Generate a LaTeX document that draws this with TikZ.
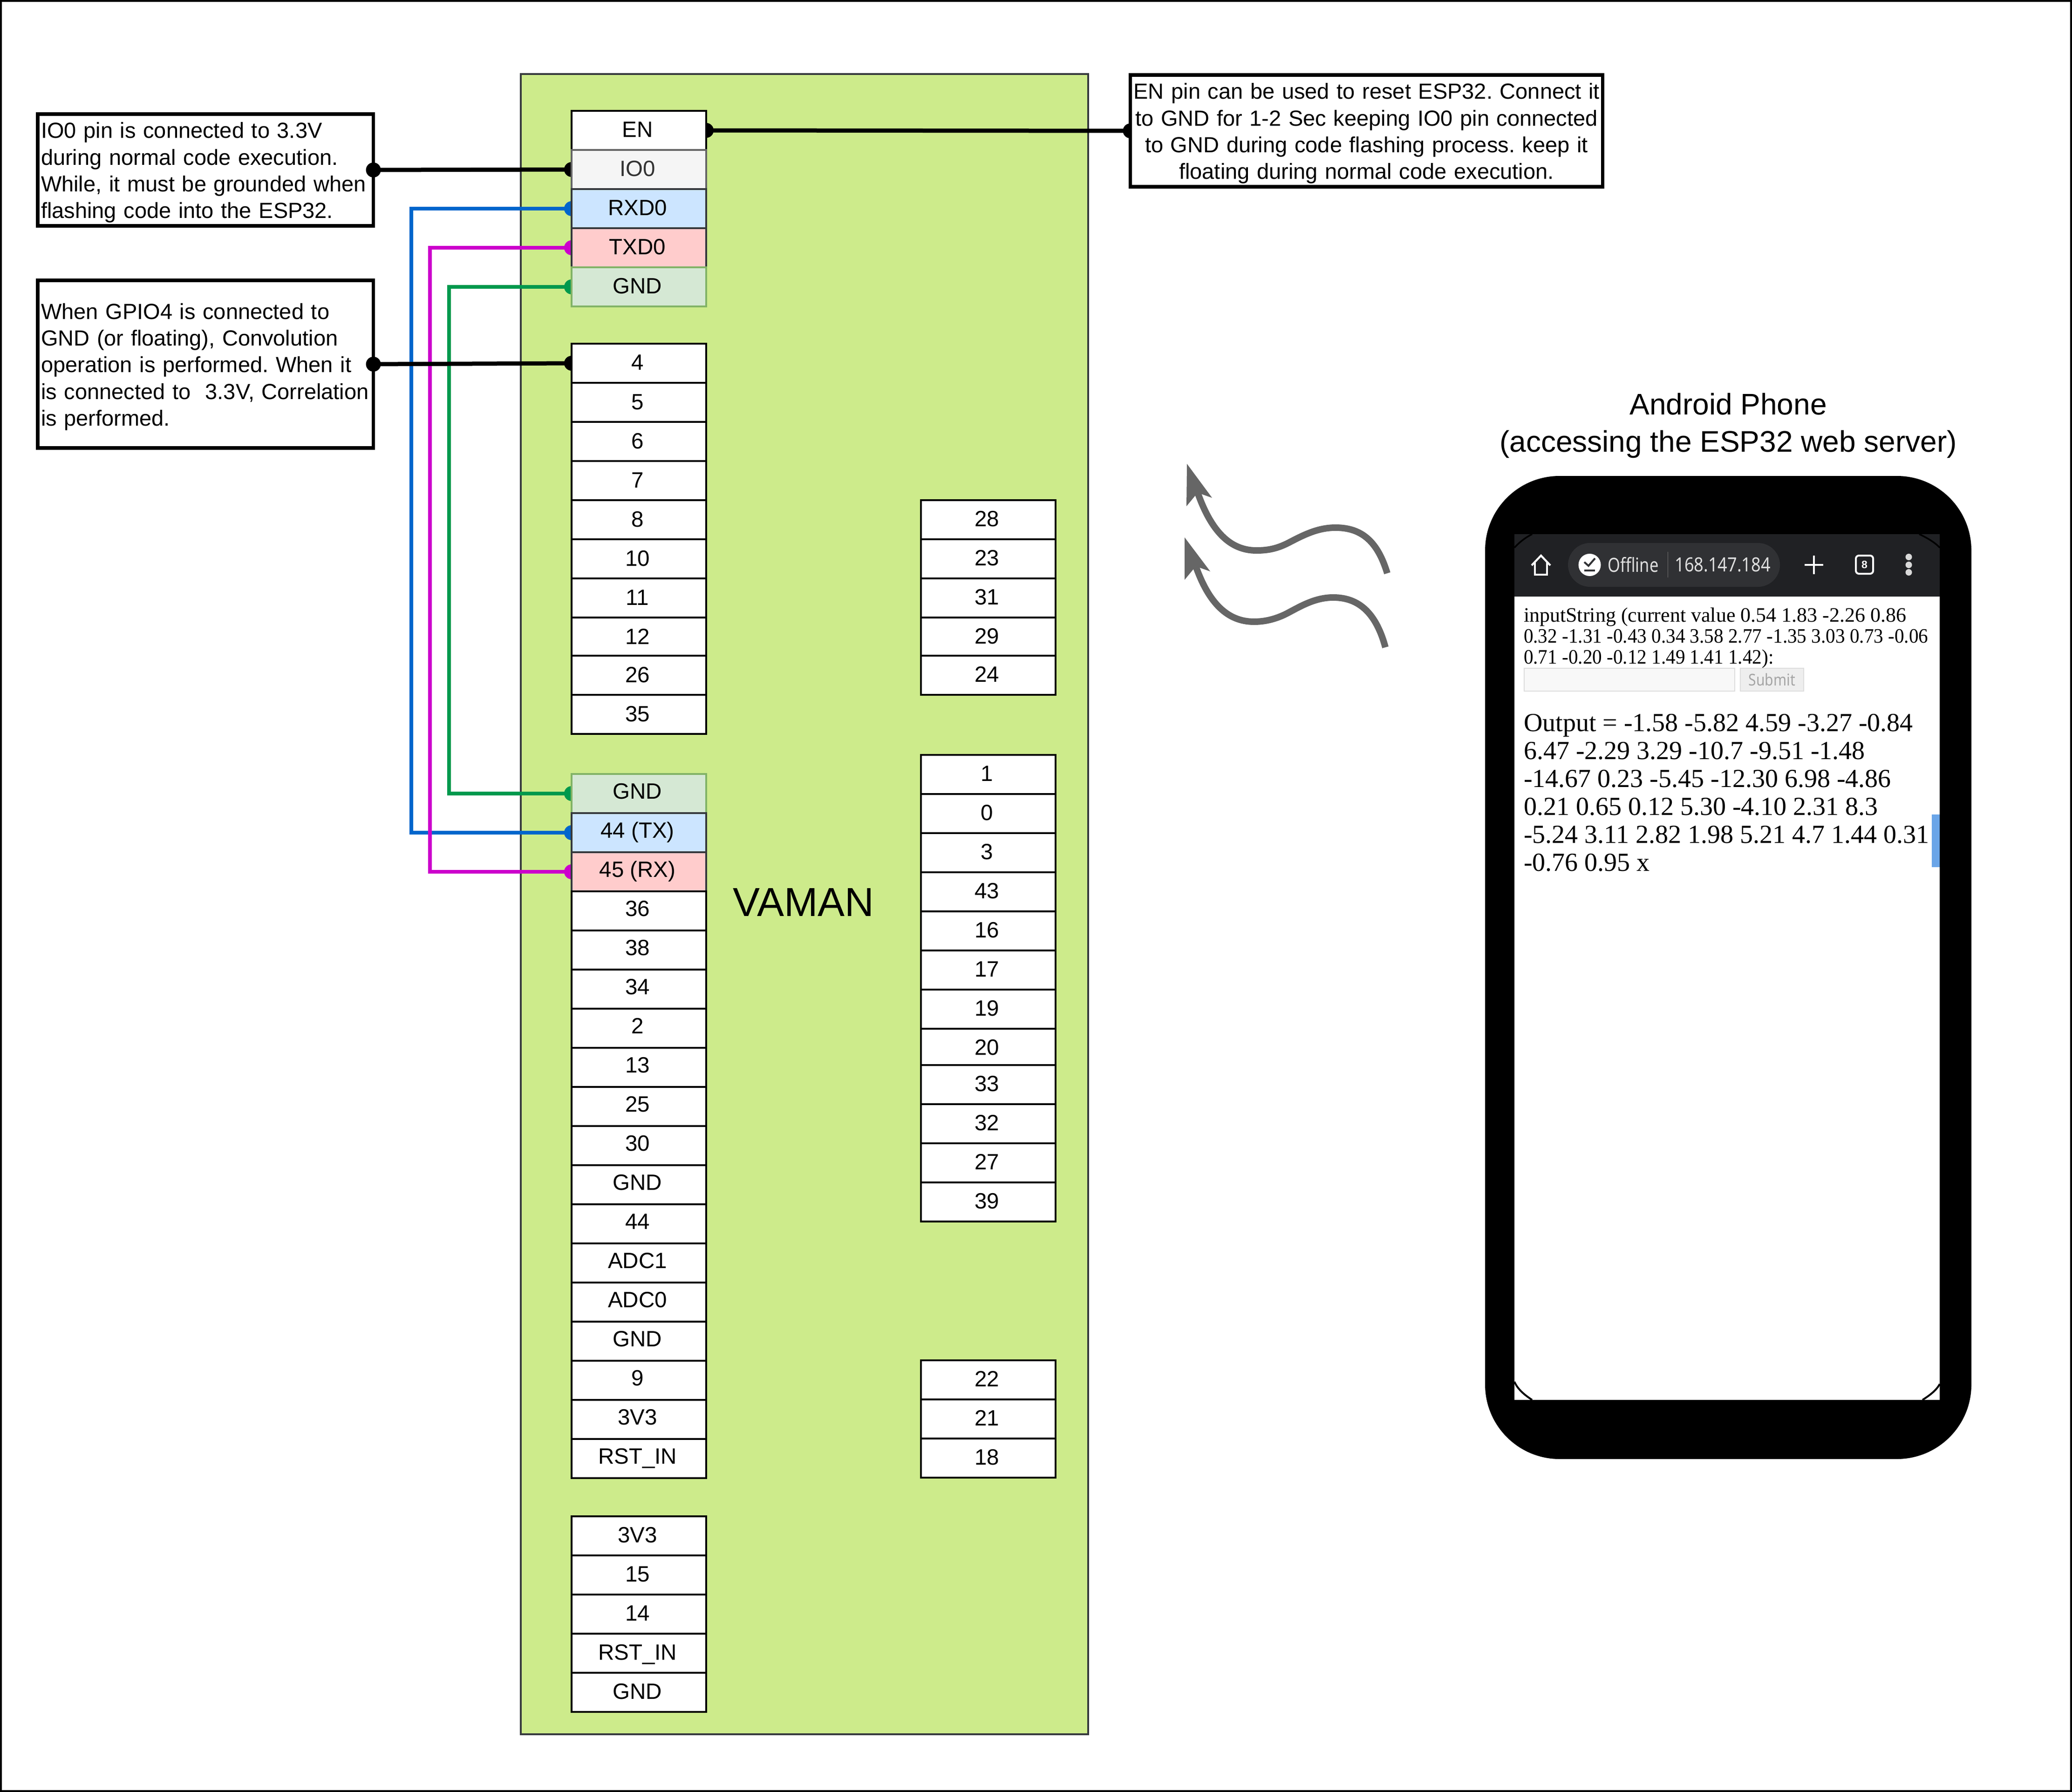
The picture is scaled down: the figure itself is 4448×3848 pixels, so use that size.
\documentclass[tikz,border=0pt]{standalone}
\usepackage{fontspec}
\setmainfont{Liberation Sans}
\newfontfamily\phoneserif{Liberation Serif}
\newfontfamily\uisans{Noto Sans}
\frenchspacing
\definecolor{boardfill}{HTML}{CDEB8B}
\definecolor{darkedge}{HTML}{36393D}
\definecolor{wireblue}{HTML}{0066CC}
\definecolor{wiremag}{HTML}{CC00CC}
\definecolor{wiregreen}{HTML}{00994D}
\definecolor{toolbar}{HTML}{202124}
\definecolor{pillc}{HTML}{303134}
\definecolor{pinbluefill}{HTML}{CCE5FF}
\definecolor{pinredfill}{HTML}{FFCCCC}
\definecolor{pingreenfill}{HTML}{D5E8D4}
\definecolor{pingreenedge}{HTML}{82B366}
\definecolor{uigrey}{HTML}{DEDEDE}
\definecolor{inedge}{HTML}{DDDDDD}
\definecolor{infill}{HTML}{F8F8F8}
\definecolor{subfill}{HTML}{EEEEEE}
\definecolor{subtext}{HTML}{A5A5A5}
\definecolor{scrollc}{HTML}{6AA5E8}
\pgfdeclarelayer{boardlayer}
\pgfdeclarelayer{wirelayer}
\pgfdeclarelayer{frontlayer}
\pgfsetlayers{boardlayer,wirelayer,main,frontlayer}
\def\pinH{8pt}\def\pinD{3.6pt}
\tikzset{
  pinbox/.style={draw=black,fill=white,line width=.7pt,minimum width=57.8pt,minimum height=16.8pt,inner sep=0pt,outer sep=0pt,text height=\pinH,text depth=\pinD,font=\fontsize{9.5pt}{11.5pt}\selectfont},
  pingrey/.style={pinbox,draw=black!60,fill=black!4,text=black!80},
  pinblue/.style={pinbox,draw=darkedge,fill=pinbluefill},
  pinred/.style={pinbox,draw=darkedge,fill=pinredfill},
  pingreen/.style={pinbox,draw=pingreenedge,fill=pingreenfill},
  notebox/.style={draw=black,fill=white,line width=1.5pt,inner xsep=1.4pt,inner ysep=0pt,outer sep=0pt,font=\fontsize{9.4pt}{11.46pt}\selectfont},
  bluewire/.style={draw=wireblue,line width=1.6pt},
  magwire/.style={draw=wiremag,line width=1.6pt},
  greenwire/.style={draw=wiregreen,line width=1.6pt},
  blackwire/.style={draw=black,line width=1.8pt},
  wavearrow/.style={draw=black!60,line width=2.8pt},
  phonetext/.style={anchor=north west,inner sep=0pt,outer sep=0pt,align=left,text=black},
  uitext/.style={inner sep=0pt,outer sep=0pt,text=uigrey},
}
\newcommand{\pinnode}[5]{\node[#1] (#2) at (#3,#4) {\kern-1.2pt #5};}
\newcommand{\firstlift}{\rule{0pt}{9.1pt}}
\begin{document}
\begin{tikzpicture}[x=0.2pt,y=-0.2pt]
\useasboundingbox (0,0) rectangle (4448,3848);
\draw[black,line width=.8pt] (2,2) rectangle (4446,3846);

\begin{pgfonlayer}{boardlayer}
\node[draw=darkedge,fill=boardfill,line width=.7pt,minimum width=243.6pt,minimum height=713pt,inner sep=0pt,outer sep=0pt] (board) at (1727,1941.5) {};
\end{pgfonlayer}
\node[font=\fontsize{17.4pt}{20pt}\selectfont,inner sep=0pt] (vaman) at (1725,1938) {VAMAN};

% left column, top group
\def\pinH{8.6pt}\def\pinD{2.6pt}
\pinnode{pinbox}{en}{1371.5}{280}{EN}
\pinnode{pingrey}{ioz}{1371.5}{364}{IO0}
\pinnode{pinblue}{rxd}{1371.5}{448}{RXD0}
\pinnode{pinred}{txd}{1371.5}{532}{TXD0}
\pinnode{pingreen}{gnda}{1371.5}{616}{GND}
% left column, second group
\pinnode{pinbox}{pfour}{1371.5}{780}{4}
\pinnode{pinbox}{pfive}{1371.5}{864}{5}
\pinnode{pinbox}{psix}{1371.5}{948}{6}
\pinnode{pinbox}{pseven}{1371.5}{1032}{7}
\pinnode{pinbox}{peight}{1371.5}{1116}{8}
\pinnode{pinbox}{pten}{1371.5}{1200}{10}
\pinnode{pinbox}{peleven}{1371.5}{1284}{11}
\pinnode{pinbox}{ptwelve}{1371.5}{1368}{12}
\pinnode{pinbox}{ptwentysix}{1371.5}{1450}{26}
\pinnode{pinbox}{pthirtyfive}{1371.5}{1534}{35}
% left column, long group
\def\pinH{8pt}\def\pinD{3.6pt}
\pinnode{pingreen}{gndb}{1371.5}{1704}{GND}
\pinnode{pinblue}{txpin}{1371.5}{1788}{44 (TX)}
\pinnode{pinred}{rxpin}{1371.5}{1872}{45 (RX)}
\pinnode{pinbox}{lc}{1371.5}{1956}{36}
\pinnode{pinbox}{ld}{1371.5}{2040}{38}
\pinnode{pinbox}{le}{1371.5}{2124}{34}
\pinnode{pinbox}{lf}{1371.5}{2208}{2}
\pinnode{pinbox}{lg}{1371.5}{2292}{13}
\pinnode{pinbox}{lh}{1371.5}{2376}{25}
\pinnode{pinbox}{li}{1371.5}{2460}{30}
\pinnode{pinbox}{lj}{1371.5}{2544}{GND}
\pinnode{pinbox}{lk}{1371.5}{2628}{44}
\pinnode{pinbox}{ll}{1371.5}{2712}{ADC1}
\pinnode{pinbox}{lm}{1371.5}{2796}{ADC0}
\pinnode{pinbox}{ln}{1371.5}{2880}{GND}
\pinnode{pinbox}{lo}{1371.5}{2964}{9}
\pinnode{pinbox}{lp}{1371.5}{3048}{3V3}
\pinnode{pinbox}{lq}{1371.5}{3132}{RST\_IN}
% left column, bottom group
\def\pinH{8.4pt}\def\pinD{2.8pt}
\pinnode{pinbox}{ba}{1371.5}{3298}{3V3}
\pinnode{pinbox}{bb}{1371.5}{3382}{15}
\pinnode{pinbox}{bc}{1371.5}{3466}{14}
\pinnode{pinbox}{bd}{1371.5}{3550}{RST\_IN}
\pinnode{pinbox}{be}{1371.5}{3634}{GND}
% right column
\pinnode{pinbox}{ra}{2121.5}{1116}{28}
\pinnode{pinbox}{rb}{2121.5}{1200}{23}
\pinnode{pinbox}{rc}{2121.5}{1284}{31}
\pinnode{pinbox}{rd}{2121.5}{1368}{29}
\pinnode{pinbox}{re}{2121.5}{1450}{24}
\pinnode{pinbox}{sa}{2121.5}{1663}{1}
\pinnode{pinbox}{sb}{2121.5}{1747}{0}
\pinnode{pinbox}{sc}{2121.5}{1831}{3}
\pinnode{pinbox}{sd}{2121.5}{1915}{43}
\pinnode{pinbox}{se}{2121.5}{1999}{16}
\pinnode{pinbox}{sf}{2121.5}{2083}{17}
\pinnode{pinbox}{sg}{2121.5}{2167}{19}
\pinnode{pinbox}{sh}{2121.5}{2251}{20}
\pinnode{pinbox}{si}{2121.5}{2329}{33}
\pinnode{pinbox}{sj}{2121.5}{2413}{32}
\pinnode{pinbox}{sk}{2121.5}{2497}{27}
\pinnode{pinbox}{sl}{2121.5}{2581}{39}
\pinnode{pinbox}{ta}{2121.5}{2963}{22}
\pinnode{pinbox}{tb}{2121.5}{3047}{21}
\pinnode{pinbox}{tc}{2121.5}{3131}{18}

% notes
\node[notebox,minimum width=144.1pt,minimum height=48pt,text width=141.3pt,align=left] (noteio) at (441.3,365)
 {\firstlift\mbox{IO0 pin is connected to 3.3V}\\\mbox{during normal code execution.}\\\mbox{While, it must be grounded when}\\\mbox{flashing code into the ESP32.}};
\node[notebox,minimum width=144.1pt,minimum height=72pt,text width=141.3pt,align=left] (notegpio) at (441.3,782)
 {\firstlift\mbox{When GPIO4 is connected to}\\\mbox{GND (or floating), Convolution}\\\mbox{operation is performed. When it}\\\mbox{is connected to\ \ 3.3V, Correlation}\\\mbox{is performed.}};
\node[notebox,minimum width=202.8pt,minimum height=48pt,text width=200pt,align=center] (noteen) at (2933.5,281)
 {\firstlift\mbox{EN pin can be used to reset ESP32. Connect it}\\\mbox{to GND for 1-2 Sec keeping IO0 pin connected}\\\mbox{to GND during code flashing process. keep it}\\\mbox{floating during normal code execution.}};

% bus positions
\coordinate (busb) at (883,0);
\coordinate (busm) at (923,0);
\coordinate (busg) at (964,0);

\begin{pgfonlayer}{wirelayer}
\draw[greenwire] (gnda.west) -- (gnda.west -| busg) -- (gndb.west -| busg) -- (gndb.west);
\fill[wiregreen] (gnda.west) circle (3.2pt) (gndb.west) circle (3.2pt);
\draw[bluewire] (rxd.west) -- (rxd.west -| busb) -- (txpin.west -| busb) -- (txpin.west);
\fill[wireblue] (rxd.west) circle (3.2pt) (txpin.west) circle (3.2pt);
\draw[magwire] (txd.west) -- (txd.west -| busm) -- (rxpin.west -| busm) -- (rxpin.west);
\fill[wiremag] (txd.west) circle (3.2pt) (rxpin.west) circle (3.2pt);
\draw[blackwire] (noteio.east) -- (ioz.west);
\fill[black] (ioz.west) circle (3.2pt);
\draw[blackwire] (notegpio.east) -- (pfour.west);
\fill[black] (pfour.west) circle (3.2pt);
\draw[blackwire] (en.east) -- (noteen.west);
\fill[black] (en.east) circle (3.2pt) (noteen.west) circle (3.2pt);
\end{pgfonlayer}
\begin{pgfonlayer}{frontlayer}
\fill[black] (noteio.east) circle (3.2pt) (notegpio.east) circle (3.2pt);
\end{pgfonlayer}

% wave arrows
\draw[wavearrow] (2978,1231) .. controls (2958,1165) and (2925,1133) .. (2867,1133)
  .. controls (2830,1133) and (2800,1148) .. (2771,1163)
  .. controls (2745,1177) and (2725,1182) .. (2697,1182)
  .. controls (2640,1182) and (2600,1140) .. (2571,1058);
\fill[black!60] (2548,996) -- (2602,1069) -- (2571,1058) -- (2547,1087) -- cycle;
\draw[wavearrow] (2974,1390) .. controls (2955,1320) and (2920,1283) .. (2862,1283)
  .. controls (2825,1283) and (2795,1300) .. (2767,1315)
  .. controls (2745,1327) and (2720,1335) .. (2692,1335)
  .. controls (2635,1335) and (2595,1295) .. (2567,1216);
\fill[black!60] (2543,1154) -- (2598,1227) -- (2567,1216) -- (2543,1245) -- cycle;

% phone
\node[font=\fontsize{12.8pt}{16pt}\selectfont,align=center,inner sep=0pt] (phonetitle) at (3710,914) {Android Phone\\(accessing the ESP32 web server)};
\fill[black,rounded corners=32pt] (3188,1022) rectangle (4232,3133);
\fill[white] (3251,1147) rectangle (4164,3006);
\fill[toolbar] (3251,1147) rectangle (4164,1281);
\draw[black,line width=.7pt] (3251,1176) .. controls (3262,1164) and (3275,1154) .. (3289,1147);
\draw[black,line width=.7pt] (4164,1176) .. controls (4153,1164) and (4135,1154) .. (4120,1147);
\draw[black,line width=.8pt] (3251,2967) .. controls (3258,2983) and (3272,2995) .. (3289,3006);
\draw[black,line width=.8pt] (4164,2972) .. controls (4157,2985) and (4143,2996) .. (4127,3006);
% toolbar
\draw[white,line width=.85pt,line join=miter] (3288,1214) -- (3308,1193) -- (3328,1214);
\draw[white,line width=.85pt] (3295,1207) -- (3295,1234) -- (3321,1234) -- (3321,1207);
\fill[pillc,rounded corners=9.4pt] (3366,1166) rectangle (3821,1260);
\fill[white] (3412.5,1213) circle (4.8pt);
\draw[pillc,line width=.8pt] (3401,1207) -- (3410,1215) -- (3424,1199);
\draw[pillc,line width=.8pt] (3401,1225) -- (3424,1225);
\node[uitext,font=\fontsize{8.4pt}{10pt}\uisans] (offl) at (3506,1213) {\scalebox{.82}[1]{Offline}};
\draw[black!55,line width=.2pt] (3580,1185) -- (3580,1240);
\node[uitext,font=\fontsize{8.4pt}{10pt}\uisans] (addr) at (3698,1213) {\scalebox{.86}[1]{168.147.184}};
\draw[white,line width=.8pt] (3874,1213) -- (3914,1213) (3894,1193) -- (3894,1233);
\draw[white,line width=.8pt,rounded corners=1.3pt] (3984,1193) rectangle (4021,1232);
\node[inner sep=0pt,text=white,font=\fontsize{4.6pt}{5pt}\selectfont\bfseries] (tabs) at (4002.5,1213) {8};
\fill[white!85!black] (4097.5,1196) circle (1.4pt) (4097.5,1213) circle (1.4pt) (4097.5,1229) circle (1.4pt);
% page
\node[phonetext,font=\fontsize{8.8pt}{9pt}\phoneserif] (inp) at (3271,1305)
 {\mbox{inputString (current value 0.54 1.83 -2.26 0.86}\\\scalebox{.936}[1]{0.32 -1.31 -0.43 0.34 3.58 2.77 -1.35 3.03 0.73 -0.06}\\\scalebox{.936}[1]{0.71 -0.20 -0.12 1.49 1.41 1.42):}};
\node[draw=inedge,fill=infill,line width=.4pt,minimum width=90.4pt,minimum height=9.8pt,inner sep=0pt,anchor=north west] (inbox) at (3271,1434) {};
\node[draw=inedge,fill=subfill,line width=.4pt,minimum width=27.2pt,minimum height=9.8pt,inner sep=0pt,anchor=north west,text=subtext,font=\fontsize{7pt}{8pt}\uisans] (subm) at (3735,1434) {\scalebox{.86}[1]{Submit}};
\node[phonetext,font=\fontsize{11.2pt}{12pt}\phoneserif] (outp) at (3271,1533)
 {\mbox{Output = -1.58 -5.82 4.59 -3.27 -0.84}\\\mbox{6.47 -2.29 3.29 -10.7 -9.51 -1.48}\\\mbox{-14.67 0.23 -5.45 -12.30 6.98 -4.86}\\\mbox{0.21 0.65 0.12 5.30 -4.10 2.31 8.3}\\\mbox{-5.24 3.11 2.82 1.98 5.21 4.7 1.44 0.31}\\\mbox{-0.76 0.95 x}};
\fill[scrollc] (4147,1749) rectangle (4164,1862);
\end{tikzpicture}
\end{document}
